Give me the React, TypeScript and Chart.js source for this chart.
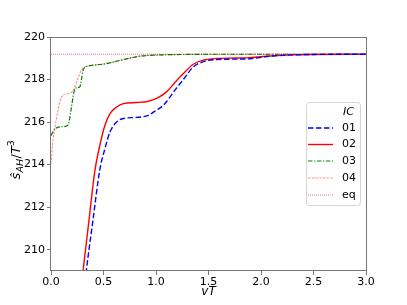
import React, { useEffect, useRef } from "react";
import { Chart, registerables } from "chart.js";

Chart.register(...registerables);

// ---- data ----
const x01 = [0.325, 0.336, 0.40, 0.464, 0.514, 0.562, 0.625, 0.69, 0.816, 0.927, 1.0, 1.07, 1.18, 1.26, 1.355, 1.465, 1.58, 1.75, 1.895, 2.09, 2.3, 2.5, 3.0];
const y01 = [208.5, 209.0, 211.4, 213.74, 214.76, 215.54, 216.0, 216.17, 216.22, 216.32, 216.55, 216.79, 217.5, 218.0, 218.59, 218.86, 218.94, 218.96, 218.98, 219.1, 219.16, 219.18, 219.19];

const x02 = [0.29, 0.305, 0.362, 0.416, 0.467, 0.514, 0.562, 0.625, 0.69, 0.816, 0.927, 1.02, 1.1, 1.18, 1.26, 1.355, 1.45, 1.58, 1.75, 1.895, 2.09, 2.3, 2.5, 3.0];
const y02 = [208.4, 209.0, 211.4, 213.65, 214.95, 215.85, 216.4, 216.71, 216.87, 216.92, 216.98, 217.15, 217.42, 217.86, 218.28, 218.72, 218.91, 218.99, 219.01, 219.03, 219.11, 219.16, 219.18, 219.19];

const x03 = [0.0, 0.035, 0.098, 0.146, 0.168, 0.193, 0.219, 0.241, 0.273, 0.289, 0.305, 0.327, 0.384, 0.53, 0.69, 0.85, 1.0, 1.3, 1.6, 3.0];
const y03 = [215.36, 215.67, 215.78, 215.81, 215.93, 216.64, 217.42, 217.61, 217.65, 217.97, 218.44, 218.59, 218.66, 218.75, 218.94, 219.1, 219.15, 219.18, 219.19, 219.19];

const x04 = [0.0, 0.02, 0.05, 0.083, 0.114, 0.162, 0.2, 0.219, 0.257, 0.289, 0.32, 0.384, 0.53, 0.69, 0.85, 1.0, 1.3, 1.6, 3.0];
const y04 = [214.05, 215.2, 216.1, 216.95, 217.26, 217.34, 217.42, 217.58, 218.05, 218.44, 218.59, 218.66, 218.76, 218.94, 219.1, 219.15, 219.18, 219.19, 219.19];

const xEq = [0.0, 3.0];
const yEq = [219.19, 219.19];

const yTickValues = [210, 212, 214, 216, 218, 220];
const legendTitle = "IC";
const seriesLabels = ["01", "02", "03", "04", "eq"];

const zip = (xs: number[], ys: number[]) => xs.map((x, i) => ({ x, y: ys[i] }));

const styles = [
  { color: "#0000ff", width: 1.4, dash: [5.5, 2.5] },
  { color: "#ff0000", width: 1.4, dash: [] as number[] },
  { color: "#008000", width: 1.2, dash: [4.5, 1.6, 1.2, 1.6] },
  { color: "rgba(255,105,100,0.75)", width: 1.1, dash: [2.5, 1.2] },
  { color: "rgba(205,40,60,0.7)", width: 0.9, dash: [1, 1] },
];

const FONT = '"DejaVu Sans", sans-serif';

export default function App() {
  const ref = useRef<HTMLCanvasElement | null>(null);

  useEffect(() => {
    const canvas = ref.current;
    if (!canvas) return;
    const series = [zip(x01, y01), zip(x02, y02), zip(x03, y03), zip(x04, y04), zip(xEq, yEq)];

    const framePlugin = {
      id: "frame",
      afterDatasetsDraw(chart: any) {
        const { ctx, chartArea: a } = chart;
        ctx.save();
        ctx.strokeStyle = "#777";
        ctx.lineWidth = 1;
        ctx.strokeRect(Math.round(a.left) - 0.5, Math.round(a.top) + 0.5, Math.round(a.right - a.left) + 1, Math.round(a.bottom - a.top) - 1);
        ctx.restore();
      },
    };

    const legendPlugin = {
      id: "mylegend",
      afterDraw(chart: any) {
        const ctx = chart.ctx;
        ctx.save();
        const bx = 306, by = 102, bw = 54, bh = 103;
        ctx.beginPath();
        (ctx as any).roundRect(bx + 0.5, by + 0.5, bw, bh, 3);
        ctx.fillStyle = "rgba(255,255,255,0.85)";
        ctx.fill();
        ctx.strokeStyle = "#d5d5d5";
        ctx.lineWidth = 1;
        ctx.stroke();
        ctx.fillStyle = "#000";
        ctx.textBaseline = "middle";
        ctx.font = "italic 11px " + FONT;
        ctx.fillText(legendTitle, 343, 112);
        const rows = [128, 144.5, 161, 178, 195];
        seriesLabels.forEach((lab, i) => {
          const s = styles[i];
          ctx.beginPath();
          ctx.setLineDash(s.dash);
          ctx.strokeStyle = s.color;
          ctx.lineWidth = s.width;
          ctx.moveTo(308, rows[i]);
          ctx.lineTo(333, rows[i]);
          ctx.stroke();
          ctx.setLineDash([]);
          ctx.font = "11px " + FONT;
          ctx.fillStyle = "#000";
          ctx.fillText(lab, 342, rows[i]);
        });
        ctx.restore();
      },
    };

    const labelPlugin = {
      id: "labels",
      afterDraw(chart: any) {
        const ctx = chart.ctx;
        ctx.save();
        // x label
        ctx.fillStyle = "#000";
        ctx.font = "italic 12px " + FONT;
        ctx.textAlign = "center";
        ctx.textBaseline = "middle";
        ctx.fillText("vT", 208.5, 292);
        // y label
        ctx.translate(20, 160);
        ctx.rotate(-Math.PI / 2);
        ctx.textAlign = "left";
        ctx.textBaseline = "alphabetic";
        const parts = [
          { t: "\u015D", f: "italic 13px " + FONT, dy: 0 },
          { t: "AH", f: "italic 9.5px " + FONT, dy: 3 },
          { t: "/", f: "13px " + FONT, dy: 0 },
          { t: "T", f: "italic 13px " + FONT, dy: 0 },
          { t: "3", f: "9.5px " + FONT, dy: -6 },
        ];
        let total = 0;
        const ws = parts.map((p) => {
          ctx.font = p.f;
          const w = ctx.measureText(p.t).width;
          total += w;
          return w;
        });
        let x = -total / 2;
        parts.forEach((p, i) => {
          ctx.font = p.f;
          ctx.fillText(p.t, x, p.dy);
          x += ws[i] + (i === 1 ? 0.5 : 0);
        });
        ctx.restore();
      },
    };

    const tickFont = { family: FONT, size: 11 };

    const chart = new Chart(canvas, {
      type: "line",
      data: {
        datasets: series.map((d, i) => ({
          label: seriesLabels[i],
          data: d,
          borderColor: styles[i].color,
          borderWidth: styles[i].width,
          borderDash: styles[i].dash,
          pointRadius: 0,
          fill: false,
          cubicInterpolationMode: "monotone" as const,
        })),
      },
      options: {
        animation: false,
        responsive: false,
        devicePixelRatio: 1,
        layout: { padding: { left: 0, top: 37, right: 41, bottom: 0 } },
        plugins: { legend: { display: false }, tooltip: { enabled: false } },
        scales: {
          x: {
            type: "linear",
            min: 0,
            max: 3,
            ticks: {
              stepSize: 0.5,
              autoSkip: false,
              maxRotation: 0,
              color: "#000",
              font: tickFont,
              padding: 1,
              callback: (v: any) => Number(v).toFixed(1),
            },
            grid: { display: true, drawOnChartArea: false, drawTicks: true, tickLength: 4, tickColor: "#777", color: "#777" },
            border: { display: false },
            afterFit: (s: any) => {
              s.height = 34;
            },
          },
          y: {
            type: "linear",
            min: 209,
            max: 220,
            afterBuildTicks: (s: any) => {
              s.ticks = yTickValues.map((v) => ({ value: v }));
            },
            ticks: { color: "#000", font: tickFont, padding: 2 },
            grid: { display: true, drawOnChartArea: false, drawTicks: true, tickLength: 4, tickColor: "#777", color: "#777" },
            border: { display: false },
            afterFit: (s: any) => {
              s.width = 51;
            },
          },
        },
      },
      plugins: [framePlugin, legendPlugin, labelPlugin],
    });
    return () => chart.destroy();
  }, []);

  return (
    <div style={{ position: "fixed", left: 0, top: 0, width: 407, height: 305, background: "#fff" }}>
      <canvas ref={ref} width={407} height={305} style={{ width: 407, height: 305, display: "block" }} />
    </div>
  );
}
